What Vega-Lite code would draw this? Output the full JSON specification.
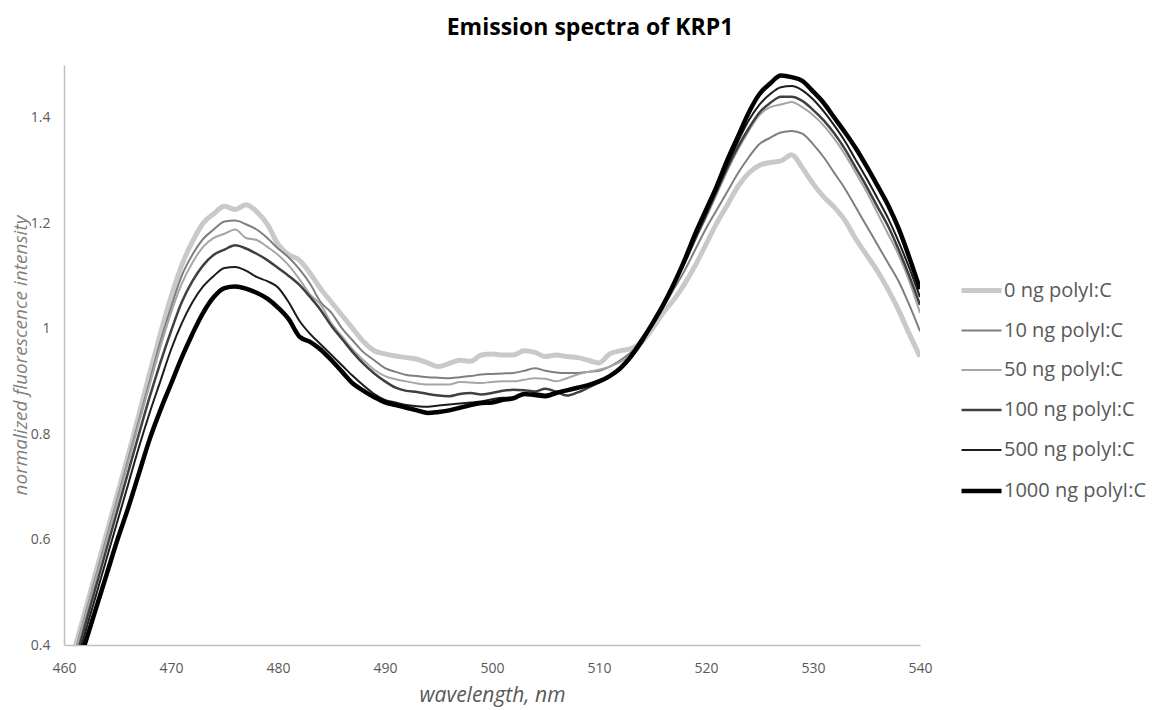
{
  "$schema": "https://vega.github.io/schema/vega-lite/v6.json",
  "width": 856,
  "height": 580,
  "autosize": {"type": "none"},
  "padding": {"left": 64, "top": 65, "right": 236, "bottom": 65},
  "background": "white",
  "title": {"text": "Emission spectra of KRP1", "font": "Open Sans", "fontSize": 23, "fontWeight": "bold", "color": "#000000", "anchor": "middle", "dx": 98, "offset": 25},
  "datasets": {
    "wide": [
      {"w":460,"a":0.32,"b":0.31,"c":0.31,"d":0.295,"e":0.285,"f":0.28},
      {"w":461,"a":0.393,"b":0.385,"c":0.383,"d":0.367,"e":0.355,"f":0.345},
      {"w":462,"a":0.466,"b":0.458,"c":0.455,"d":0.44,"e":0.425,"f":0.405},
      {"w":463,"a":0.54,"b":0.532,"c":0.528,"d":0.512,"e":0.495,"f":0.47},
      {"w":464,"a":0.613,"b":0.605,"c":0.6,"d":0.584,"e":0.565,"f":0.535},
      {"w":465,"a":0.687,"b":0.678,"c":0.673,"d":0.656,"e":0.635,"f":0.6},
      {"w":466,"a":0.76,"b":0.752,"c":0.746,"d":0.728,"e":0.705,"f":0.66},
      {"w":467,"a":0.837,"b":0.826,"c":0.82,"d":0.8,"e":0.775,"f":0.725},
      {"w":468,"a":0.915,"b":0.9,"c":0.893,"d":0.87,"e":0.84,"f":0.79},
      {"w":469,"a":0.99,"b":0.975,"c":0.965,"d":0.935,"e":0.9,"f":0.845},
      {"w":470,"a":1.06,"b":1.04,"c":1.03,"d":0.995,"e":0.96,"f":0.895},
      {"w":471,"a":1.12,"b":1.1,"c":1.085,"d":1.05,"e":1.01,"f":0.945},
      {"w":472,"a":1.165,"b":1.14,"c":1.125,"d":1.09,"e":1.05,"f":0.99},
      {"w":473,"a":1.2,"b":1.17,"c":1.155,"d":1.12,"e":1.08,"f":1.03},
      {"w":474,"a":1.218,"b":1.188,"c":1.172,"d":1.14,"e":1.1,"f":1.06},
      {"w":475,"a":1.232,"b":1.203,"c":1.18,"d":1.15,"e":1.115,"f":1.077},
      {"w":476,"a":1.226,"b":1.205,"c":1.188,"d":1.158,"e":1.117,"f":1.08},
      {"w":477,"a":1.235,"b":1.198,"c":1.172,"d":1.152,"e":1.11,"f":1.076},
      {"w":478,"a":1.222,"b":1.188,"c":1.168,"d":1.142,"e":1.098,"f":1.068},
      {"w":479,"a":1.198,"b":1.172,"c":1.155,"d":1.13,"e":1.09,"f":1.057},
      {"w":480,"a":1.16,"b":1.152,"c":1.14,"d":1.115,"e":1.078,"f":1.04},
      {"w":481,"a":1.14,"b":1.135,"c":1.12,"d":1.1,"e":1.05,"f":1.018},
      {"w":482,"a":1.13,"b":1.113,"c":1.094,"d":1.083,"e":1.015,"f":0.985},
      {"w":483,"a":1.105,"b":1.085,"c":1.065,"d":1.06,"e":0.99,"f":0.975},
      {"w":484,"a":1.075,"b":1.05,"c":1.045,"d":1.035,"e":0.97,"f":0.96},
      {"w":485,"a":1.05,"b":1.03,"c":1.01,"d":1.005,"e":0.95,"f":0.94},
      {"w":486,"a":1.025,"b":1.0,"c":0.985,"d":0.98,"e":0.93,"f":0.918},
      {"w":487,"a":1.0,"b":0.977,"c":0.96,"d":0.955,"e":0.91,"f":0.896},
      {"w":488,"a":0.975,"b":0.955,"c":0.94,"d":0.933,"e":0.892,"f":0.882},
      {"w":489,"a":0.958,"b":0.94,"c":0.922,"d":0.915,"e":0.876,"f":0.87},
      {"w":490,"a":0.952,"b":0.925,"c":0.91,"d":0.9,"e":0.865,"f":0.86},
      {"w":491,"a":0.948,"b":0.918,"c":0.904,"d":0.888,"e":0.86,"f":0.855},
      {"w":492,"a":0.945,"b":0.912,"c":0.9,"d":0.882,"e":0.855,"f":0.85},
      {"w":493,"a":0.942,"b":0.91,"c":0.896,"d":0.88,"e":0.853,"f":0.845},
      {"w":494,"a":0.935,"b":0.908,"c":0.894,"d":0.876,"e":0.852,"f":0.84},
      {"w":495,"a":0.928,"b":0.907,"c":0.894,"d":0.873,"e":0.854,"f":0.842},
      {"w":496,"a":0.934,"b":0.906,"c":0.894,"d":0.872,"e":0.856,"f":0.845},
      {"w":497,"a":0.94,"b":0.908,"c":0.899,"d":0.876,"e":0.858,"f":0.85},
      {"w":498,"a":0.938,"b":0.91,"c":0.898,"d":0.878,"e":0.86,"f":0.855},
      {"w":499,"a":0.95,"b":0.913,"c":0.897,"d":0.875,"e":0.862,"f":0.859},
      {"w":500,"a":0.952,"b":0.914,"c":0.899,"d":0.878,"e":0.866,"f":0.86},
      {"w":501,"a":0.95,"b":0.915,"c":0.9,"d":0.882,"e":0.869,"f":0.865},
      {"w":502,"a":0.95,"b":0.916,"c":0.9,"d":0.884,"e":0.869,"f":0.868},
      {"w":503,"a":0.958,"b":0.92,"c":0.903,"d":0.883,"e":0.874,"f":0.876},
      {"w":504,"a":0.955,"b":0.925,"c":0.906,"d":0.881,"e":0.878,"f":0.874},
      {"w":505,"a":0.947,"b":0.92,"c":0.905,"d":0.886,"e":0.875,"f":0.872},
      {"w":506,"a":0.95,"b":0.917,"c":0.9,"d":0.88,"e":0.88,"f":0.878},
      {"w":507,"a":0.947,"b":0.916,"c":0.906,"d":0.873,"e":0.884,"f":0.883},
      {"w":508,"a":0.945,"b":0.916,"c":0.913,"d":0.879,"e":0.888,"f":0.888},
      {"w":509,"a":0.94,"b":0.918,"c":0.918,"d":0.888,"e":0.893,"f":0.893},
      {"w":510,"a":0.935,"b":0.92,"c":0.922,"d":0.898,"e":0.9,"f":0.9},
      {"w":511,"a":0.952,"b":0.928,"c":0.928,"d":0.909,"e":0.909,"f":0.91},
      {"w":512,"a":0.958,"b":0.94,"c":0.937,"d":0.925,"e":0.922,"f":0.925},
      {"w":513,"a":0.962,"b":0.955,"c":0.95,"d":0.945,"e":0.945,"f":0.948},
      {"w":514,"a":0.975,"b":0.975,"c":0.975,"d":0.972,"e":0.975,"f":0.978},
      {"w":515,"a":1.0,"b":1.005,"c":1.01,"d":1.01,"e":1.01,"f":1.01},
      {"w":516,"a":1.03,"b":1.04,"c":1.045,"d":1.045,"e":1.045,"f":1.045},
      {"w":517,"a":1.055,"b":1.075,"c":1.085,"d":1.085,"e":1.085,"f":1.085},
      {"w":518,"a":1.085,"b":1.11,"c":1.125,"d":1.125,"e":1.13,"f":1.13},
      {"w":519,"a":1.12,"b":1.15,"c":1.17,"d":1.17,"e":1.175,"f":1.18},
      {"w":520,"a":1.16,"b":1.19,"c":1.21,"d":1.215,"e":1.22,"f":1.225},
      {"w":521,"a":1.2,"b":1.225,"c":1.255,"d":1.26,"e":1.265,"f":1.27},
      {"w":522,"a":1.235,"b":1.26,"c":1.3,"d":1.305,"e":1.31,"f":1.32},
      {"w":523,"a":1.27,"b":1.295,"c":1.34,"d":1.345,"e":1.355,"f":1.365},
      {"w":524,"a":1.295,"b":1.325,"c":1.375,"d":1.38,"e":1.395,"f":1.41},
      {"w":525,"a":1.31,"b":1.35,"c":1.405,"d":1.41,"e":1.425,"f":1.445},
      {"w":526,"a":1.315,"b":1.362,"c":1.42,"d":1.428,"e":1.445,"f":1.465},
      {"w":527,"a":1.318,"b":1.372,"c":1.425,"d":1.44,"e":1.458,"f":1.48},
      {"w":528,"a":1.33,"b":1.375,"c":1.43,"d":1.44,"e":1.46,"f":1.477},
      {"w":529,"a":1.305,"b":1.37,"c":1.42,"d":1.432,"e":1.452,"f":1.47},
      {"w":530,"a":1.275,"b":1.35,"c":1.405,"d":1.415,"e":1.435,"f":1.45},
      {"w":531,"a":1.25,"b":1.325,"c":1.385,"d":1.395,"e":1.412,"f":1.428},
      {"w":532,"a":1.23,"b":1.295,"c":1.36,"d":1.37,"e":1.385,"f":1.4},
      {"w":533,"a":1.205,"b":1.265,"c":1.33,"d":1.34,"e":1.355,"f":1.372},
      {"w":534,"a":1.17,"b":1.23,"c":1.295,"d":1.305,"e":1.32,"f":1.342},
      {"w":535,"a":1.14,"b":1.195,"c":1.26,"d":1.27,"e":1.285,"f":1.308},
      {"w":536,"a":1.11,"b":1.16,"c":1.22,"d":1.232,"e":1.248,"f":1.272},
      {"w":537,"a":1.075,"b":1.125,"c":1.18,"d":1.195,"e":1.21,"f":1.235},
      {"w":538,"a":1.035,"b":1.09,"c":1.14,"d":1.15,"e":1.165,"f":1.19},
      {"w":539,"a":0.99,"b":1.045,"c":1.09,"d":1.1,"e":1.115,"f":1.135},
      {"w":540,"a":0.947,"b":0.995,"c":1.03,"d":1.045,"e":1.06,"f":1.075}
    ]
  },
  "data": {"name": "wide"},
  "transform": [
    {"fold": ["a", "b", "c", "d", "e", "f"], "as": ["key", "v"]},
    {"lookup": "key", "from": {"data": {"values": [
      {"key": "a", "s": "0 ng polyI:C"},
      {"key": "b", "s": "10 ng polyI:C"},
      {"key": "c", "s": "50 ng polyI:C"},
      {"key": "d", "s": "100 ng polyI:C"},
      {"key": "e", "s": "500 ng polyI:C"},
      {"key": "f", "s": "1000 ng polyI:C"}
    ]}, "key": "key", "fields": ["s"]}}
  ],
  "mark": {"type": "line", "clip": true, "interpolate": "monotone"},
  "encoding": {
    "x": {
      "field": "w", "type": "quantitative",
      "scale": {"domain": [460, 540], "nice": false, "zero": false},
      "axis": {
        "title": "wavelength, nm", "titleFont": "Open Sans", "titleFontStyle": "italic", "titleFontWeight": "normal",
        "titleFontSize": 21, "titleColor": "#595959", "titlePadding": 9,
        "values": [460, 470, 480, 490, 500, 510, 520, 530, 540],
        "labelFont": "Open Sans", "labelFontSize": 14, "labelColor": "#595959", "labelPadding": 16, "labelFlush": false,
        "ticks": false, "grid": false, "domainColor": "#bfbfbf", "domainWidth": 1.5
      }
    },
    "y": {
      "field": "v", "type": "quantitative",
      "scale": {"domain": [0.4, 1.5], "nice": false, "zero": false},
      "axis": {
        "title": "normalized fluorescence intensity", "titleFont": "Open Sans", "titleFontStyle": "italic", "titleFontWeight": "normal",
        "titleFontSize": 19, "titleColor": "#7f7f7f", "titleX": -34,
        "values": [0.4, 0.6, 0.8, 1, 1.2, 1.4], "format": "~g",
        "labelFont": "Open Sans", "labelFontSize": 14, "labelColor": "#595959", "labelPadding": 14,
        "ticks": false, "grid": false, "domainColor": "#bfbfbf", "domainWidth": 1.5
      }
    },
    "color": {
      "field": "s", "type": "nominal",
      "scale": {"domain": ["0 ng polyI:C", "10 ng polyI:C", "50 ng polyI:C", "100 ng polyI:C", "500 ng polyI:C", "1000 ng polyI:C"],
                "range": ["#c9c9c9", "#7f7f7f", "#a6a6a6", "#404040", "#1c1c1c", "#000000"]},
      "legend": {
        "title": null, "orient": "none", "legendX": 895, "legendY": 203, "padding": 0,
        "symbolType": "stroke", "symbolSize": 1600, "rowPadding": 8.5,
        "labelFont": "Open Sans", "labelFontSize": 20, "labelColor": "#595959", "labelOffset": 0
      }
    },
    "strokeWidth": {
      "field": "s", "type": "nominal",
      "scale": {"type": "ordinal", "domain": ["0 ng polyI:C", "10 ng polyI:C", "50 ng polyI:C", "100 ng polyI:C", "500 ng polyI:C", "1000 ng polyI:C"],
                "range": [5, 2, 2, 2.5, 2, 4.5]},
      "legend": {
        "title": null, "orient": "none", "legendX": 895, "legendY": 203, "padding": 0,
        "symbolType": "stroke", "symbolSize": 1600, "rowPadding": 8.5,
        "labelFont": "Open Sans", "labelFontSize": 20, "labelColor": "#595959", "labelOffset": 0
      }
    }
  },
  "config": {"view": {"stroke": null}}
}
